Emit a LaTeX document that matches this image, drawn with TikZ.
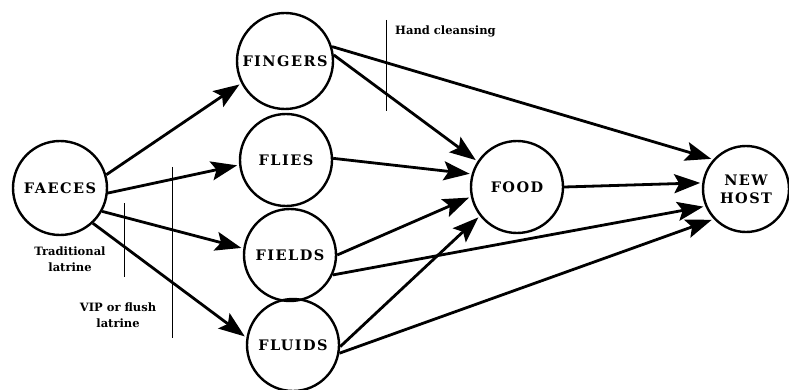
\documentclass[tikz,border=0pt]{standalone}
\usepackage{fontspec}
\setmainfont{DejaVu Serif}
\newfontfamily\nodefont[LetterSpace=10]{DejaVu Serif}
\newfontfamily\labfont[LetterSpace=0]{DejaVu Serif}
\usetikzlibrary{arrows.meta}
\tikzset{
  stage/.style={circle, draw, line width=2.4pt, minimum size=#1, inner sep=0pt,
    align=center, font=\nodefont\bfseries\fontsize{14.5}{18}\selectfont},
  flow/.style={line width=2.8pt, -{Stealth[length=26pt,width=19pt,inset=5pt]}, shorten >=2pt},
  barrier/.style={line width=1pt},
  lab/.style={inner sep=0pt, align=center, font=\labfont\bfseries\fontsize{11.5}{16}\selectfont}
}
\begin{document}
\begin{tikzpicture}[x=1pt,y=-1pt]
\useasboundingbox (0,0) rectangle (789,390);
\node[stage=94] (faeces) at (60,188) {FAECES};
\node[stage=96] (fingers) at (285,61) {FINGERS};
\node[stage=92] (flies) at (286,160) {FLIES};
\node[stage=92] (fields) at (290,255) {FIELDS};
\node[stage=92] (fluids) at (293,345) {FLUIDS};
\node[stage=92] (food) at (517,187) {FOOD};
\node[stage=86] (newhost) at (746,189) {NEW\\HOST};

\draw[flow] (faeces.16) -- (fingers.207);
\draw[flow] (faeces.-6) -- (flies.186);
\draw[flow] (faeces.-29) -- (fields.172);
\draw[flow] (faeces.-47) -- (fluids.171);
\draw[flow] (fingers.7) -- (food.147);
\draw[flow] (fingers.17) -- (newhost.138);
\draw[flow] (flies.2) -- (food.164);
\draw[flow] (fields.0) -- (food.192);
\draw[flow] (fields.-25) -- (newhost.203);
\draw[flow] (fluids.-2) -- (food.218);
\draw[flow] (fluids.-10) -- (newhost.223);
\draw[flow] (food.0) -- (newhost.172);

\draw[barrier] (386,20) -- (386,111);
\draw[barrier] (124,203) -- (124,277);
\draw[barrier] (172,167) -- (172,338);

\node[lab, anchor=west] (hand) at (395,31) {Hand cleansing};
\node[lab] (trad) at (70,259) {Traditional\\latrine};
\node[lab] (vip) at (118,315) {VIP or flush\\latrine};
\end{tikzpicture}
\end{document}
